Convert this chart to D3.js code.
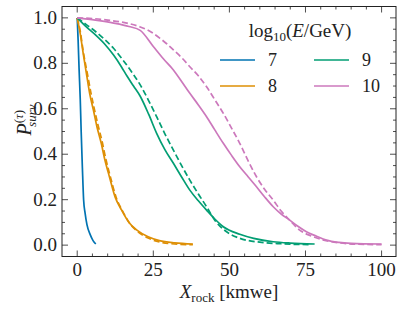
<!DOCTYPE html>
<html>
<head>
<meta charset="utf-8">
<script src="https://cdn.jsdelivr.net/npm/d3@7"></script>
<style>
body { margin: 0; background: #fff; }
</style>
</head>
<body>
<svg id="fig" width="404" height="311" font-family="serif"></svg>
<script>
// survival probability vs rock depth, solid and dashed per energy
const energies = ['7', '8', '9', '10'];
const colors = ['#0173b2', '#de8f05', '#029e73', '#cc78bc'];

const solid7 = [[0,1],[0.3,0.9],[0.6,0.78],[1.0,0.64],[1.3,0.5],[1.7,0.34],[2.1,0.2],[2.6,0.14],[3.2,0.09],[4.3,0.045],[5.2,0.02],[6.1,0.005]];
const solid8 = [[0,1],[1,0.93],[2,0.84],[3.2,0.74],[4.2,0.66],[5.3,0.595],[6.5,0.52],[7.9,0.448],[9,0.38],[10.6,0.3],[12.5,0.21],[14.6,0.154],[17,0.1],[19.6,0.066],[23.3,0.037],[27,0.02],[32,0.01],[38,0.005]];
const dashed8 = [[0,1],[1,0.94],[2,0.85],[3.4,0.75],[4.5,0.67],[5.6,0.6],[6.8,0.53],[8.2,0.455],[9.3,0.385],[10.9,0.3],[12.8,0.21],[14.9,0.15],[17.3,0.095],[19.8,0.06],[23.5,0.03],[27,0.014],[32,0.005],[38,0.002]];
const solid9 = [[0,1],[3,0.96],[6,0.925],[9,0.885],[12,0.835],[14.5,0.785],[16.3,0.745],[18.5,0.7],[20.7,0.655],[23.5,0.575],[26.1,0.492],[28.8,0.42],[31.6,0.36],[34.3,0.3],[37,0.242],[39.8,0.195],[42.5,0.154],[45.2,0.115],[48,0.081],[53.4,0.048],[58,0.03],[64.4,0.015],[70,0.009],[78,0.005]];
const dashed9 = [[0,1],[3,0.97],[6,0.94],[9,0.905],[12,0.865],[15,0.815],[18,0.76],[20.7,0.705],[23.5,0.635],[26.1,0.565],[28.8,0.49],[31.6,0.418],[34.3,0.35],[37,0.286],[39.8,0.225],[42.5,0.169],[45.2,0.11],[48,0.07],[53.4,0.03],[60,0.013],[67,0.006],[77,0.002]];
const solid10 = [[0,1],[6,0.99],[12,0.977],[17,0.962],[20.7,0.945],[25,0.874],[28.3,0.82],[31.6,0.771],[34.3,0.72],[37,0.668],[39.8,0.617],[42.5,0.565],[45.2,0.507],[48,0.448],[50.7,0.395],[53.4,0.345],[56.2,0.3],[58.9,0.257],[61.6,0.212],[64.4,0.169],[67,0.137],[69.8,0.11],[72.5,0.083],[75.3,0.059],[78.5,0.04],[81.9,0.022],[86,0.012],[90,0.008],[100,0.005]];
const dashed10 = [[0,1],[5,0.997],[10,0.99],[16.3,0.977],[20.7,0.96],[24,0.94],[27.2,0.91],[29.5,0.885],[31.6,0.859],[34.3,0.825],[37,0.785],[39.8,0.745],[42.5,0.697],[45.2,0.64],[48,0.58],[50.7,0.515],[53.4,0.448],[56.2,0.37],[58.9,0.301],[61.6,0.245],[64.4,0.198],[67,0.15],[69.8,0.11],[73.1,0.066],[77,0.04],[81,0.022],[86,0.01],[92,0.004],[100,0.002]];

const xTicks = [0, 25, 50, 75, 100];
const yTicks = [0.0, 0.2, 0.4, 0.6, 0.8, 1.0];

const series = [
	{ data: solid7, color: colors[0], dash: null },
	{ data: dashed8, color: colors[1], dash: '6,3' },
	{ data: solid8, color: colors[1], dash: null },
	{ data: dashed9, color: colors[2], dash: '6,3' },
	{ data: solid9, color: colors[2], dash: null },
	{ data: dashed10, color: colors[3], dash: '6,3' },
	{ data: solid10, color: colors[3], dash: null }
];

const svg = d3.select('#fig');
const plotL = 62, plotR = 396, plotT = 6.5, plotB = 256.5;
const ink = '#222';

const x = d3.scaleLinear().domain([-5, 105]).range([plotL, plotR + 0.8]);
const y = d3.scaleLinear().domain([-0.05, 1.05]).range([plotB, plotT]);

const line = d3.line()
	.x(d => x(d[0]))
	.y(d => y(d[1]))
	.curve(d3.curveMonotoneX);

svg.selectAll('path.series')
	.data(series)
	.enter().append('path')
	.attr('class', 'series')
	.attr('d', d => line(d.data))
	.attr('fill', 'none')
	.attr('stroke', d => d.color)
	.attr('stroke-width', 1.7)
	.attr('stroke-dasharray', d => d.dash);

// ticks, inward on all four sides
const xMinor = d3.range(0, 105, 5);
const yMinor = d3.range(0, 1.0001, 0.05);

const g = svg.append('g').attr('stroke', ink).attr('stroke-width', 0.8);
const tick = (x1, y1, x2, y2) => g.append('line').attr('x1', x1).attr('y1', y1).attr('x2', x2).attr('y2', y2);

xMinor.forEach(v => {
	let len = xTicks.includes(v) ? 6 : 3;
	tick(x(v), plotB, x(v), plotB - len);
	tick(x(v), plotT, x(v), plotT + len);
});
yMinor.forEach(v => {
	let major = yTicks.some(t => Math.abs(t - v) < 1e-6);
	let len = major ? 6 : 3;
	tick(plotL, y(v), plotL + len, y(v));
	tick(plotR, y(v), plotR - len, y(v));
});

svg.append('rect')
	.attr('x', plotL).attr('y', plotT)
	.attr('width', plotR - plotL).attr('height', plotB - plotT)
	.attr('fill', 'none').attr('stroke', ink).attr('stroke-width', 1);

const label = sel => sel.attr('font-family', 'serif').attr('fill', ink);

svg.selectAll('text.xt')
	.data(xTicks)
	.enter().append('text')
	.call(label)
	.attr('x', d => x(d)).attr('y', 276)
	.attr('text-anchor', 'middle')
	.attr('font-size', 19)
	.text(d => d);

svg.selectAll('text.yt')
	.data(yTicks)
	.enter().append('text')
	.call(label)
	.attr('x', 57).attr('y', d => y(d) + 6)
	.attr('text-anchor', 'end')
	.attr('font-size', 19)
	.text(d => d.toFixed(1));

// axis labels
const xl = svg.append('text').call(label)
	.attr('x', 229).attr('y', 298).attr('text-anchor', 'middle').attr('font-size', 19);
xl.append('tspan').attr('font-style', 'italic').text('X');
xl.append('tspan').attr('font-size', 13).attr('dy', 4).text('rock');
xl.append('tspan').attr('dy', -4).text(' [kmwe]');

const yl = svg.append('text').call(label)
	.attr('transform', 'translate(31,120) rotate(-90)')
	.attr('text-anchor', 'middle').attr('font-size', 20);
yl.append('tspan').attr('font-style', 'italic').text('P');
yl.append('tspan').attr('font-size', 13).attr('dy', -8).text('(');
yl.append('tspan').attr('font-size', 13).attr('font-style', 'italic').text('τ');
yl.append('tspan').attr('font-size', 13).text(')');
yl.append('tspan').attr('font-size', 13).attr('font-style', 'italic').attr('dx', -17).attr('dy', 13).text('surv');

// legend
const lt = svg.append('text').call(label)
	.attr('x', 300).attr('y', 37).attr('text-anchor', 'middle').attr('font-size', 19);
lt.append('tspan').text('log');
lt.append('tspan').attr('font-size', 13).attr('dy', 4).text('10');
lt.append('tspan').attr('dy', -4).text('(');
lt.append('tspan').attr('font-style', 'italic').text('E');
lt.append('tspan').text('/GeV)');

const legend = svg.selectAll('g.leg')
	.data(energies)
	.enter().append('g')
	.attr('class', 'leg')
	.attr('transform', (d, i) => `translate(${220 + Math.floor(i / 2) * 94},${60 + (i % 2) * 26})`);
legend.append('line')
	.attr('x1', 0).attr('x2', 35)
	.attr('stroke', (d, i) => colors[i]).attr('stroke-width', 1.7);
legend.append('text')
	.call(label)
	.attr('x', 48).attr('y', 6)
	.attr('font-size', 18)
	.text(d => d);
</script>
</body>
</html>
